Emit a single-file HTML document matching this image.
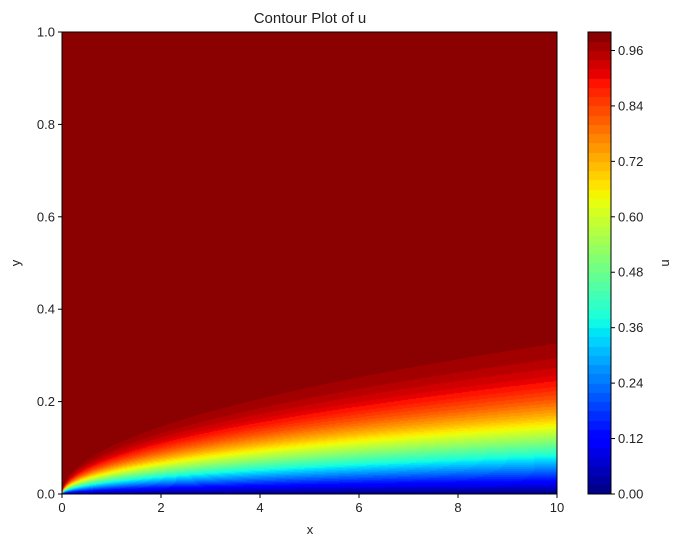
<!DOCTYPE html>
<html><head><meta charset="utf-8"><style>
html,body{margin:0;padding:0;background:#fff;width:681px;height:547px;overflow:hidden}
#wrap{position:relative;width:681px;height:547px}
canvas{position:absolute}
svg{position:absolute;left:0;top:0}
text{font-family:"Liberation Sans",sans-serif;font-size:13px;fill:#222}
</style></head><body>
<div id="wrap">
<canvas id="field" width="495" height="462" style="left:62px;top:32px"></canvas>
<canvas id="cbar" width="23" height="462" style="left:588px;top:32px"></canvas>
<svg id="ov" width="681" height="547"></svg>
</div>
<script>
// Blasius similarity profile data
const etaVals = [0,0.4,0.8,1.2,1.6,2.0,2.4,2.8,3.2,3.6,4.0,4.4,4.8,5.2,5.6,6.0,7.0,8.0];
const uVals   = [0,0.1328,0.2647,0.3938,0.5168,0.6298,0.7290,0.8115,0.8761,0.9233,0.9555,0.9759,0.9878,0.9943,0.9975,0.9990,0.9999,1.0];
const xTicks = [0,2,4,6,8,10];
const yTicks = [0,0.2,0.4,0.6,0.8,1.0];
const cTicks = [0,0.12,0.24,0.36,0.48,0.60,0.72,0.84,0.96];
const nLevels = 50;
const etaScale = 44;

const L=62,R=557,T=32,B=494;
const xmin=0,xmax=10,ymin=0,ymax=1;
const sx=v=>L+(v-xmin)/(xmax-xmin)*(R-L);
const sy=v=>B-(v-ymin)/(ymax-ymin)*(B-T);
const cy=v=>B-v*(B-T);

function interp(e){
  if(e>=etaVals[etaVals.length-1]) return uVals[uVals.length-1];
  for(let i=1;i<etaVals.length;i++){
    if(e<=etaVals[i]){const t=(e-etaVals[i-1])/(etaVals[i]-etaVals[i-1]);return uVals[i-1]+t*(uVals[i]-uVals[i-1]);}
  }
  return 1;
}
function seg(pts,v){
  for(let i=1;i<pts.length;i++){if(v<=pts[i][0]){const t=(v-pts[i-1][0])/(pts[i][0]-pts[i-1][0]);return pts[i-1][1]+t*(pts[i][1]-pts[i-1][1]);}}
  return pts[pts.length-1][1];
}
function jet(v){
  const r=seg([[0,0],[0.35,0],[0.66,1],[0.89,1],[1,0.5]],v);
  const g=seg([[0,0],[0.125,0],[0.375,1],[0.64,1],[0.91,0],[1,0]],v);
  const b=seg([[0,0.5],[0.11,1],[0.34,1],[0.65,0],[1,0]],v);
  return [r*255|0,g*255|0,b*255|0];
}
function bandColor(u){
  let i=Math.floor(u*nLevels); if(i>=nLevels)i=nLevels-1; if(i<0)i=0;
  return jet((i+0.5)/nLevels);
}
// field
(function(){
  const c=document.getElementById('field'),ctx=c.getContext('2d');
  const W=c.width,H=c.height,img=ctx.createImageData(W,H);
  for(let py=0;py<H;py++){
    const y=ymax-(py+0.5)/H*(ymax-ymin);
    for(let px=0;px<W;px++){
      const x=xmin+(px+0.5)/W*(xmax-xmin);
      const u=interp(y/Math.sqrt(x)*etaScale);
      const col=bandColor(u),k=(py*W+px)*4;
      img.data[k]=col[0];img.data[k+1]=col[1];img.data[k+2]=col[2];img.data[k+3]=255;
    }
  }
  ctx.putImageData(img,0,0);
  const cb=document.getElementById('cbar'),c2=cb.getContext('2d');
  for(let i=0;i<nLevels;i++){
    const col=jet((i+0.5)/nLevels);
    c2.fillStyle=`rgb(${col[0]},${col[1]},${col[2]})`;
    const y0=cy((i+1)/nLevels)-T,y1=cy(i/nLevels)-T;
    c2.fillRect(0,Math.floor(y0),23,Math.ceil(y1)-Math.floor(y0));
  }
})();
// overlay
const NS='http://www.w3.org/2000/svg',svg=document.getElementById('ov');
function mk(tag,attrs,txt){const e=document.createElementNS(NS,tag);for(const k in attrs)e.setAttribute(k,attrs[k]);if(txt!==undefined)e.textContent=txt;svg.appendChild(e);return e;}
let e;
e=mk('rect',{x:L,y:T,width:R-L,height:B-T,fill:'none',stroke:'#000','stroke-width':1});


e=mk('rect',{x:588,y:T,width:23,height:B-T,fill:'none',stroke:'#000','stroke-width':1});


xTicks.forEach(v=>{
  const x=sx(v);
  e=mk('line',{x1:x,x2:x,y1:B,y2:B+4,stroke:'#000'});
  
  
  e=mk('text',{x:x,y:B+18,'text-anchor':'middle'},String(v));
  
  
});
yTicks.forEach(v=>{
  const y=sy(v);
  e=mk('line',{x1:L-4,x2:L,y1:y,y2:y,stroke:'#000'});
  
  
  e=mk('text',{x:L-7,y:y+4.5,'text-anchor':'end'},v.toFixed(1));
  
  
});
cTicks.forEach(v=>{
  const y=cy(v);
  e=mk('line',{x1:611,x2:615,y1:y,y2:y,stroke:'#000'});
  
  
  e=mk('text',{x:618,y:y+4.5},v.toFixed(2));
  
  
});
e=mk('text',{x:310,y:23,'text-anchor':'middle',style:'font-size:15px'},'Contour Plot of u');


e=mk('text',{x:310,y:534,'text-anchor':'middle'},'x');


e=mk('text',{x:20,y:263,'text-anchor':'middle',transform:'rotate(-90 20 263)'},'y');


e=mk('text',{x:669,y:263,'text-anchor':'middle',transform:'rotate(-90 669 263)'},'u');


</script>
</body></html>
